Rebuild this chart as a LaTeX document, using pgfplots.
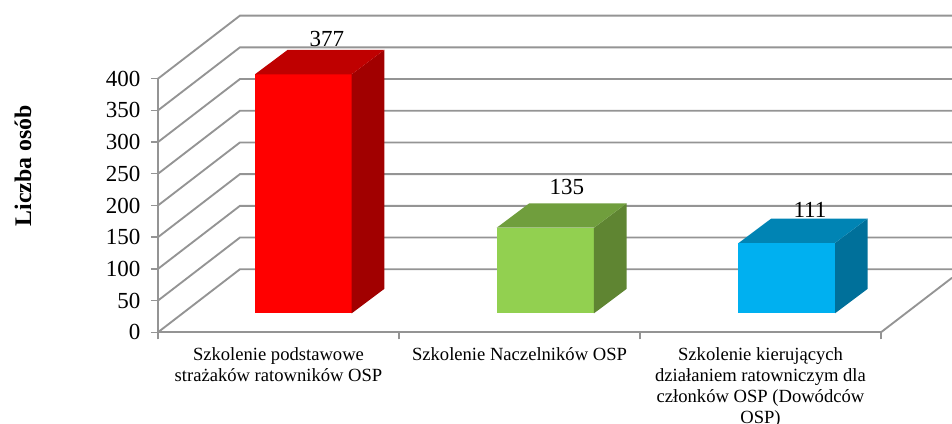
\documentclass[border=0pt]{standalone}
\usepackage{fontspec}
\setmainfont{Liberation Serif}
\usepackage{pgfplots}
\pgfplotsset{compat=1.18}
\definecolor{gridc}{HTML}{949494}
\begin{document}
\begin{tikzpicture}
\begin{axis}[
  scale only axis,
  width=542.25pt, height=190.2pt,
  xmin=0, xmax=3, ymin=0, ymax=400,
  clip=false,
  axis x line*=bottom, axis y line*=left,
  axis line style={gridc, line width=1.4pt},
  xtick={0,1,2,3},
  x tick label as interval,
  xticklabels={{Szkolenie podstawowe\\strażaków ratowników OSP},{Szkolenie Naczelników OSP},{Szkolenie kierujących\\działaniem ratowniczym dla\\członków OSP (Dowódców\\OSP)}},
  xticklabel style={align=center, font=\fontsize{13.95}{15.75}\selectfont, yshift=-2.5pt},
  ytick={0,50,...,400},
  tick align=outside,
  major tick length=5.25pt,
  tick style={gridc, line width=1pt},
  yticklabel style={font=\fontsize{17.25}{20}\selectfont, xshift=-4.5pt},
  /pgf/number format/assume math mode=true,
  ylabel={Liczba osób},
  ylabel style={at={(axis description cs:-0.1867,0.656)}, anchor=center, font=\fontsize{17.85}{20}\selectfont\bfseries},
]
% walls: front edge, back edge, run to the right of the picture
\pgfplotsinvokeforeach{0,50,...,400}{
  \pgfmathsetmacro\yb{#1+99.4}
  \edef\tmp{\noexpand\addplot[gridc, line width=1.4pt, forget plot] coordinates {(0,#1) (0.340,\yb) (3.295,\yb)};}
  \tmp
}
\addplot[gridc, line width=1.4pt, forget plot] coordinates {(3,0) (3.295,86)};
% red bar
\addplot[ybar, bar width=72.75pt, fill=red, draw=none, shift={(0,14.2pt)}] coordinates {(0.603,377)};
\addplot[fill=red!63!black, draw=none, forget plot] coordinates {(0.8037,29.9) (0.9390,68.4) (0.9390,445.4) (0.8037,406.9)};
\addplot[fill=red!75!black, draw=none, forget plot] coordinates {(0.4025,406.9) (0.5378,445.4) (0.9390,445.4) (0.8037,406.9)};
% green bar
\addplot[ybar, bar width=72.75pt, fill={rgb,255:red,146;green,208;blue,80}, draw=none, shift={(0,14.2pt)}] coordinates {(1.607,135)};
\addplot[fill={rgb,255:red,95;green,133;blue,50}, draw=none, forget plot] coordinates {(1.8091,29.9) (1.9444,68.4) (1.9444,203.4) (1.8091,164.9)};
\addplot[fill={rgb,255:red,112;green,158;blue,61}, draw=none, forget plot] coordinates {(1.4054,164.9) (1.5407,203.4) (1.9444,203.4) (1.8091,164.9)};
% blue bar
\addplot[ybar, bar width=72.75pt, fill={rgb,255:red,0;green,176;blue,240}, draw=none, shift={(0,14.2pt)}] coordinates {(2.609,111)};
\addplot[fill={rgb,255:red,0;green,112;blue,154}, draw=none, forget plot] coordinates {(2.8091,29.9) (2.9444,68.4) (2.9444,179.4) (2.8091,140.9)};
\addplot[fill={rgb,255:red,0;green,132;blue,180}, draw=none, forget plot] coordinates {(2.4095,140.9) (2.5448,179.4) (2.9444,179.4) (2.8091,140.9)};
% value labels
\node[anchor=base, inner sep=0pt, font=\fontsize{17.25}{20}\selectfont] at (axis cs:0.701,450) {377};
\node[anchor=base, inner sep=0pt, font=\fontsize{17.25}{20}\selectfont] at (axis cs:1.697,218) {135};
\node[anchor=base, inner sep=0pt, font=\fontsize{17.25}{20}\selectfont] at (axis cs:2.705,180.3) {111};
\end{axis}
\pgfresetboundingbox
\path[use as bounding box] (-118.5pt,-68.8pt) rectangle (595.5pt,249.2pt);
\end{tikzpicture}
\end{document}
